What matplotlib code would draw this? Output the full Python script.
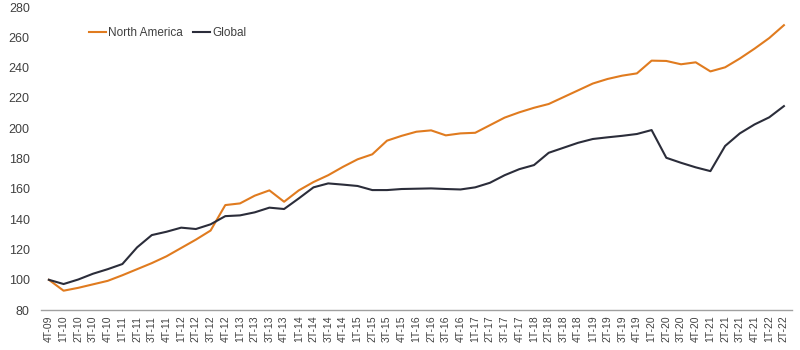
import numpy as np
import matplotlib
matplotlib.use('Agg')
import matplotlib.pyplot as plt

plt.rcParams['font.family'] = ['Liberation Sans', 'DejaVu Sans']

# quarters 4T-09 .. 2T-22
quarters = ['4T-09']
for yr in range(10, 23):
    for q in range(1, 5):
        if yr == 22 and q > 2:
            break
        quarters.append(f'{q}T-{yr:02d}')

north_america = [100, 92.8, 94.7, 97, 99.3, 103, 107, 111, 115.5, 121,
                 126.5, 132.5, 149.3, 150.4, 155.5, 159, 151.5, 159, 164.5, 169,
                 174.5, 179.5, 182.8, 191.8, 195, 197.7, 198.6, 195.3, 196.6, 197,
                 202, 207, 210.5, 213.5, 216, 220.5, 225, 229.5, 232.5, 234.7,
                 236.2, 244.6, 244.4, 242.2, 243.5, 237.5, 240.2, 246, 252.5, 259.5,
                 268]
global_idx = [100, 97.2, 100.2, 104, 107, 110.4, 121.4, 129.5, 131.7, 134.4,
              133.5, 136.6, 142, 142.5, 144.5, 147.6, 146.7, 153.7, 161, 163.6,
              162.8, 161.9, 159.2, 159.2, 159.9, 160.1, 160.3, 159.9, 159.6, 161,
              164, 169, 173, 175.7, 183.8, 187.1, 190.4, 192.9, 194, 195,
              196.2, 198.8, 180.5, 177.2, 174.2, 171.7, 188.3, 196.6, 202.5, 207.2,
              214.6]

fig = plt.figure(figsize=(8, 3.5), dpi=100)
ax = fig.add_axes([0.051, 0.114, 0.939, 0.866])

x = np.arange(len(quarters))
ax.plot(x, north_america, color='#E07B1F', lw=1.5, label='North America')
ax.plot(x, global_idx, color='#2B2D3A', lw=1.5, label='Global')

ax.set_xlim(-0.55, len(quarters) - 0.45)
ax.set_ylim(80, 280)
ax.set_yticks(np.arange(80, 281, 20))
ax.set_xticks(x)
ax.set_xticklabels(quarters, rotation=90, fontsize=7.5, color='#404040')
ax.tick_params(axis='y', labelsize=9, colors='#404040', length=0, pad=8)
ax.tick_params(axis='x', length=0, pad=4)

for s in ['top', 'right', 'left']:
    ax.spines[s].set_visible(False)
ax.spines['bottom'].set_color('#A0A0A0')
ax.spines['bottom'].set_linewidth(1.0)

ax.legend(loc='center left', bbox_to_anchor=(0.05, 0.915), ncol=2, frameon=False,
          fontsize=8.5, handlelength=1.4, handletextpad=0.2, columnspacing=0.9,
          labelcolor='#404040')

plt.savefig('out.png', dpi=100)
